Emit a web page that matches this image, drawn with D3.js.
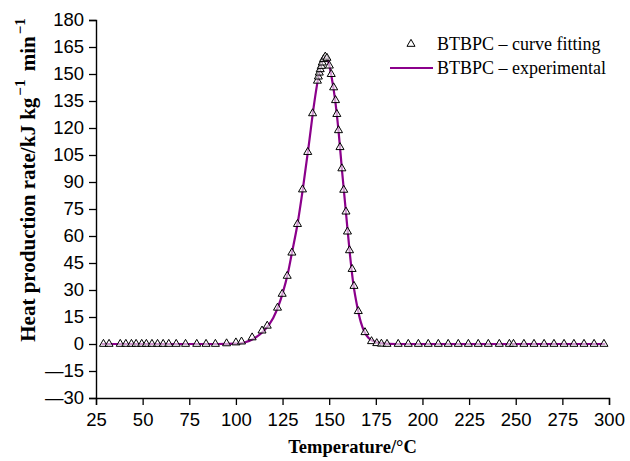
<!DOCTYPE html>
<html>
<head>
<meta charset="utf-8">
<script src="https://cdn.jsdelivr.net/npm/d3@7"></script>
<style>
  html, body { margin: 0; padding: 0; background: #fff; }
  svg { display: block; }
</style>
</head>
<body>
<svg id="chart" width="630" height="461"></svg>
<script>
// Fitted heat production rate (triangles): temperature °C and rate kJ kg^-1 min^-1
const fitTemp = [29, 32, 38, 41, 44, 46.5, 49.5, 52, 55, 58, 61, 64, 68, 73, 79, 84, 89, 95, 100, 103,
  108.7, 114, 116.8, 122.3, 124.8, 127.5, 130, 133, 135.7, 138.5, 141.1, 143.7, 144.2, 144.7, 145.2,
  145.8, 146.3, 147, 147.9, 148.8, 150.1, 151.1, 152.4, 153.4, 154.1, 155, 155.8, 156.8, 157.8, 159,
  159.8, 160.9, 162.3, 163.3, 165.6, 169.2, 172.7, 175.5, 178, 181, 187, 192.4, 197.8, 203.1, 208.5,
  213.8, 219.2, 224.6, 229.9, 235.3, 241.2, 246.6, 248.8, 254.4, 259.8, 265.2, 270.5, 275.9, 281.2,
  286.6, 292, 297.3];
const fitRate = [0, 0, 0, 0, 0, 0, 0, 0, 0, 0, 0, 0, 0, 0, 0, 0, 0, 0.3, 0.8, 1.3,
  3.6, 7.4, 10.1, 20.1, 27.8, 37.8, 50.7, 66.6, 85.8, 106.6, 128.1, 146.2, 148.5, 150.7, 152.6,
  154.4, 156.3, 158.2, 159.6, 158.9, 154.6, 149.9, 142.5, 135.4, 127.7, 118.7, 109.3, 97.5, 85.6, 73.5,
  62.4, 52, 41.6, 32.2, 18.2, 6.5, 1.5, 0.4, 0.1, 0, 0, 0, 0, 0, 0,
  0, 0, 0, 0, 0, 0, 0, 0, 0, 0, 0, 0, 0, 0,
  0, 0, 0];

// Measured heat production rate (solid line)
const expTemp = [28, 60, 90, 100, 105, 110, 115, 120, 125, 128, 130, 133, 136, 139, 142, 144, 146, 147.5,
  148.5, 149.5, 151, 153, 155, 157, 159, 161, 163, 165, 167, 169, 171, 174, 177, 182, 190, 240, 298];
const expRate = [0, 0, 0, 0.2, 1.0, 3.2, 7.3, 14.5, 28, 40, 50.5, 66.5, 87, 110, 134, 147, 156, 159.3,
  159.2, 157, 150, 137, 118.5, 95, 73, 51, 33, 21, 12, 6.5, 3.5, 1.4, 0.5, 0.1, 0, 0, 0];

const xTicks = [25, 50, 75, 100, 125, 150, 175, 200, 225, 250, 275, 300];
const yTicks = [-30, -15, 0, 15, 30, 45, 60, 75, 90, 105, 120, 135, 150, 165, 180];

const seriesNames = ["BTBPC \u2013 curve fitting", "BTBPC \u2013 experimental"];

const lineColor = "#8b008b";
const plot = { left: 96, right: 609, top: 20, bottom: 398 };

const svg = d3.select("#chart");

const x = d3.scaleLinear().domain([25, 300]).range([plot.left, plot.right]);
const y = d3.scaleLinear().domain([-30, 180]).range([plot.bottom, plot.top]);

const fmt = d => (d < 0 ? "\u2014" + Math.abs(d) : String(d));

// Minor ticks halfway between the labelled ones
const xMinor = d3.range(37.5, 300, 25);
const yMinor = d3.range(-22.5, 180, 15);

const xAxisG = svg.append("g").attr("transform", `translate(0,${plot.bottom})`);
xAxisG.call(d3.axisBottom(x).tickValues(xMinor).tickSize(4).tickFormat(""));
xAxisG.call(d3.axisBottom(x).tickValues(xTicks).tickSize(7).tickPadding(8).tickFormat(fmt));

const yAxisG = svg.append("g").attr("transform", `translate(${plot.left},0)`);
yAxisG.call(d3.axisLeft(y).tickValues(yMinor).tickSize(4).tickFormat(""));
yAxisG.call(d3.axisLeft(y).tickValues(yTicks).tickSize(7).tickPadding(5).tickFormat(fmt));

svg.selectAll(".domain").attr("stroke", "#000").attr("stroke-width", 1.4);
svg.selectAll(".tick line").attr("stroke", "#000").attr("stroke-width", 1.3);
svg.selectAll(".tick text")
  .attr("fill", "#000")
  .style("font-family", "Arial, 'Liberation Sans', sans-serif")
  .style("font-size", "18.5px");

// Measured curve
const expData = expTemp.map((t, i) => ({ t, v: expRate[i] }));
svg.append("path")
  .datum(expData)
  .attr("fill", "none")
  .attr("stroke", lineColor)
  .attr("stroke-width", 2.2)
  .attr("d", d3.line().x(d => x(d.t)).y(d => y(d.v)).curve(d3.curveMonotoneX));

// Fitted points as open triangles
const fitData = fitTemp.map((t, i) => ({ t, v: fitRate[i] }));
const tri = d3.symbol().type(d3.symbolTriangle).size(28);
svg.append("g").selectAll("path")
  .data(fitData)
  .join("path")
  .attr("d", tri)
  .attr("transform", d => `translate(${x(d.t)},${y(d.v)})`)
  .attr("fill", "#fff")
  .attr("fill-opacity", 0.6)
  .attr("stroke", "#000")
  .attr("stroke-width", 1);

// Legend
const legend = svg.append("g")
  .style("font-family", "'Liberation Serif', 'Times New Roman', serif")
  .style("font-size", "18px")
  .attr("fill", "#000");
legend.append("path")
  .attr("d", tri)
  .attr("transform", "translate(411,44)")
  .attr("fill", "#fff")
  .attr("stroke", "#000")
  .attr("stroke-width", 1);
legend.append("text").attr("x", 437).attr("y", 50).text(seriesNames[0]);
legend.append("line")
  .attr("x1", 390).attr("x2", 433).attr("y1", 68).attr("y2", 68)
  .attr("stroke", lineColor).attr("stroke-width", 2.2);
legend.append("text").attr("x", 437).attr("y", 74).text(seriesNames[1]);

// Axis titles
svg.append("text")
  .attr("x", (plot.left + plot.right) / 2)
  .attr("y", 453)
  .attr("text-anchor", "middle")
  .style("font-family", "'Liberation Serif', 'Times New Roman', serif")
  .style("font-size", "18.5px")
  .style("font-weight", "bold")
  .text("Temperature/\u00b0C");

const yTitle = svg.append("text")
  .attr("transform", "translate(35,180) rotate(-90)")
  .attr("text-anchor", "middle")
  .style("font-family", "'Liberation Serif', 'Times New Roman', serif")
  .style("font-size", "21px")
  .style("font-weight", "bold");
yTitle.append("tspan").text("Heat production rate/kJ kg");
yTitle.append("tspan").attr("dy", -10).attr("dx", 2).style("font-size", "15px").text("\u22121");
yTitle.append("tspan").attr("dy", 10).attr("dx", 3).text(" min");
yTitle.append("tspan").attr("dy", -10).attr("dx", 2).style("font-size", "15px").text("\u22121");
</script>
</body>
</html>
